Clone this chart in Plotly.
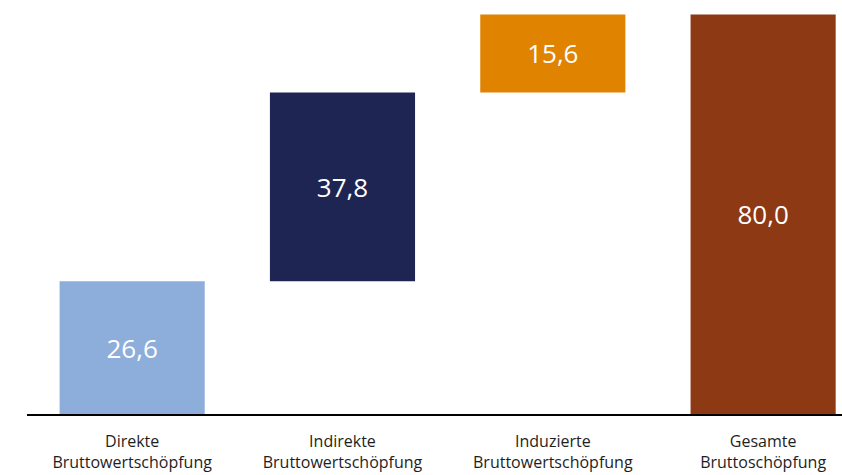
import plotly.graph_objects as go

# Bruttowertschöpfung (Mrd. EUR): direct, indirect and induced effects plus total
categories = [
    "Direkte<br>Bruttowertschöpfung",
    "Indirekte<br>Bruttowertschöpfung",
    "Induzierte<br>Bruttowertschöpfung",
    "Gesamte<br>Bruttoschöpfung",
]
values = [26.6, 37.8, 15.6, 80.0]
is_total = [False, False, False, True]
colors = ["#8DADDB", "#1F2552", "#E08300", "#8D3913"]

# stacked-waterfall bases: each partial bar starts where the previous ended
bases = []
running = 0.0
for v, tot in zip(values, is_total):
    if tot:
        bases.append(0.0)
    else:
        bases.append(running)
        running += v

fig = go.Figure(
    go.Bar(
        x=categories,
        y=values,
        base=bases,
        marker=dict(color=colors, line=dict(width=0)),
        width=0.69,
        texttemplate="%{y:.1f}",
        textposition="inside",
        insidetextanchor="middle",
        textangle=0,
        textfont=dict(color="white", size=26, family="Open Sans"),
        hoverinfo="skip",
    )
)

fig.update_layout(
    width=842,
    height=475,
    margin=dict(l=27, r=0, t=0, b=61),
    paper_bgcolor="white",
    plot_bgcolor="white",
    separators=",.",
    showlegend=False,
    font=dict(family="Open Sans", color="#1E1E1E"),
    xaxis=dict(
        type="category",
        range=[-0.5, 3.375],
        showline=True,
        linecolor="black",
        linewidth=2,
        showgrid=False,
        ticks="",
        ticklabelstandoff=12,
        tickfont=dict(size=16, color="#1E1E1E"),
        fixedrange=True,
    ),
    yaxis=dict(
        range=[0, 82.9],
        visible=False,
        showgrid=False,
        zeroline=False,
        fixedrange=True,
    ),
)

fig.write_html("out.html")
